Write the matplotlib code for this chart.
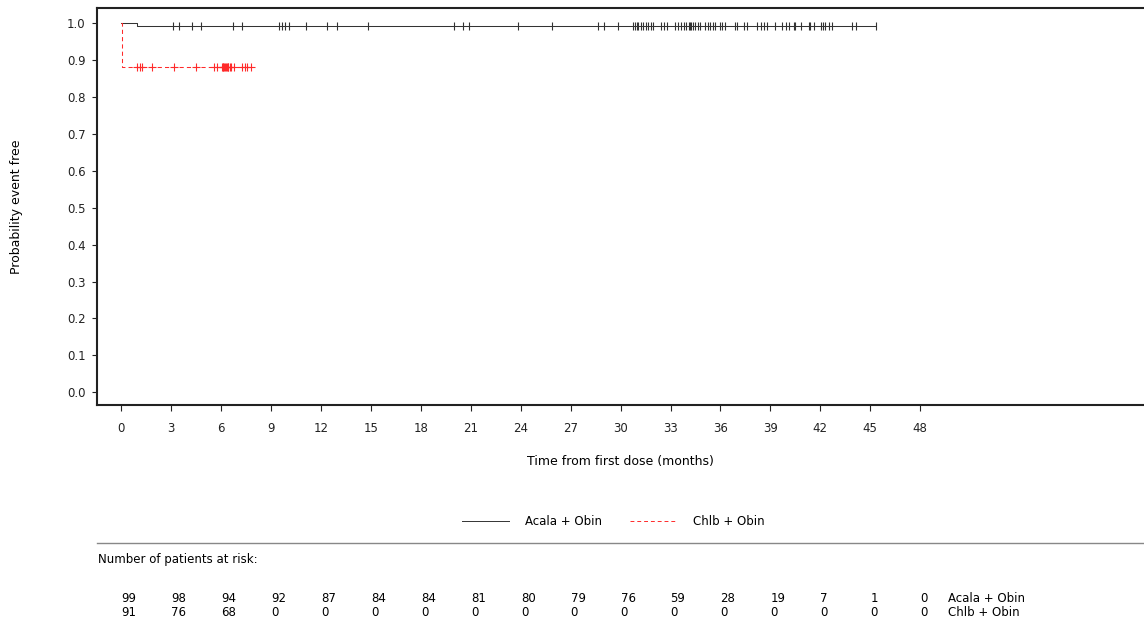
import numpy as np
import matplotlib
matplotlib.use("Agg")
import matplotlib.pyplot as plt
from matplotlib.lines import Line2D
from matplotlib.transforms import blended_transform_factory

# Kaplan-Meier steps (time in months, probability event free)
acala_times = [0.0, 0.92, 45.3]
acala_surv = [1.0, 0.99, 0.99]
chlb_times = [0.0, 0.02, 7.9]
chlb_surv = [1.0, 0.879, 0.879]

# censored observations
acala_censor = [3.11, 3.45, 4.22, 4.76, 6.73, 7.27, 9.48, 9.64, 9.84, 10.08,
                11.08, 12.33, 12.93, 14.80, 19.98, 20.52, 20.86, 23.84, 25.90,
                28.66, 29.02, 29.86, 30.76, 30.86, 30.96, 31.06, 31.22, 31.37,
                31.51, 31.67, 31.81, 31.97, 32.41, 32.63, 32.77, 33.27, 33.47,
                33.63, 33.81, 33.92, 34.08, 34.18, 34.24, 34.32, 34.48, 34.64,
                34.78, 35.08, 35.24, 35.38, 35.52, 35.68, 35.98, 36.08, 36.25,
                36.89, 36.99, 37.39, 37.59, 38.19, 38.43, 38.60, 38.80, 39.30,
                39.70, 39.94, 40.10, 40.40, 40.50, 40.86, 41.31, 41.40, 41.61,
                42.01, 42.15, 42.31, 42.51, 42.71, 43.92, 44.12, 45.32]
chlb_censor = [0.94, 1.10, 1.25, 1.85, 3.15, 4.46, 5.56, 5.76, 6.02, 6.08,
               6.13, 6.18, 6.22, 6.28, 6.33, 6.38, 6.43, 6.50, 6.57, 6.77,
               7.27, 7.43, 7.57, 7.77]

# numbers at risk
risk_months = [0, 3, 6, 9, 12, 15, 18, 21, 24, 27, 30, 33, 36, 39, 42, 45, 48]
acala_risk = [99, 98, 94, 92, 87, 84, 84, 81, 80, 79, 76, 59, 28, 19, 7, 1, 0]
chlb_risk = [91, 76, 68, 0, 0, 0, 0, 0, 0, 0, 0, 0, 0, 0, 0, 0, 0]

group_names = ["Acala + Obin", "Chlb + Obin"]
x_ticks = list(range(0, 49, 3))
y_ticks = [0.0, 0.1, 0.2, 0.3, 0.4, 0.5, 0.6, 0.7, 0.8, 0.9, 1.0]


def step_value(times, surv, t):
    idx = np.searchsorted(times, t, side="right") - 1
    return np.asarray(surv)[idx]


def main():
    plt.rcParams["font.family"] = ["DejaVu Sans"]
    plt.rcParams["font.size"] = 8.5
    fig = plt.figure(figsize=(11.44, 6.25), dpi=100)
    ax = fig.add_axes([0.0852, 0.352, 0.9148, 0.6348])

    black = "#333333"
    red = "#ff2a2a"
    ax.step(acala_times, acala_surv, where="post", color=black, lw=0.75,
            label=group_names[0])
    ax.step(chlb_times, chlb_surv, where="post", color=red, lw=0.75,
            linestyle=(0, (4, 3)), label=group_names[1])
    ax.plot(acala_censor, step_value(acala_times, acala_surv, acala_censor),
            linestyle="none", marker="|", markersize=6, markeredgewidth=0.8,
            color=black)
    ax.plot(chlb_censor, step_value(chlb_times, chlb_surv, chlb_censor),
            linestyle="none", marker="+", markersize=6, markeredgewidth=0.8,
            color=red)

    ax.set_xlim(-1.44, 61.45)
    ax.set_ylim(-0.034, 1.039)
    ax.set_xticks(x_ticks)
    ax.set_yticks(y_ticks)
    ax.set_yticklabels([f"{v:.1f}" for v in y_ticks])
    ax.tick_params(axis="x", direction="out", length=4.5, width=0.8,
                   pad=8, colors="#222222")
    ax.tick_params(axis="y", direction="out", length=3.5, width=0.8,
                   pad=5, colors="#222222")
    for side in ["left", "bottom", "top"]:
        ax.spines[side].set_linewidth(1.5)
        ax.spines[side].set_color("#222222")
    ax.spines["right"].set_visible(False)

    ax.set_xlabel("Time from first dose (months)", fontsize=9)
    ax.set_ylabel("Probability event free", fontsize=9)
    ax.xaxis.set_label_coords(0.5, -0.125)
    ax.yaxis.set_label_coords(-0.071, 0.5)

    leg = ax.legend(loc="center", bbox_to_anchor=(0.536, 0.166),
                    bbox_transform=fig.transFigure, ncol=2, frameon=False,
                    handlelength=4.0, handletextpad=1.3, columnspacing=2.4,
                    fontsize=8.5)
    for line in leg.get_lines():
        line.set_linewidth(0.7)

    fig.add_artist(Line2D([0.085, 1.0], [0.131, 0.131], color="#888888",
                          lw=1.0))
    fig.text(0.0857, 0.104, "Number of patients at risk:", fontsize=8.5,
             va="center", ha="left")

    trans = blended_transform_factory(ax.transData, fig.transFigure)
    for row_y, counts, name in [(0.0416, acala_risk, group_names[0]),
                                (0.0208, chlb_risk, group_names[1])]:
        for month, n in zip(risk_months, counts):
            ax.text(month, row_y, str(n), transform=trans, ha="left",
                    va="center", fontsize=8.5, clip_on=False)
        ax.text(49.7, row_y, name, transform=trans, ha="left", va="center",
                fontsize=8.5, clip_on=False)

    fig.savefig("out.png", dpi=100)


if __name__ == "__main__":
    main()
